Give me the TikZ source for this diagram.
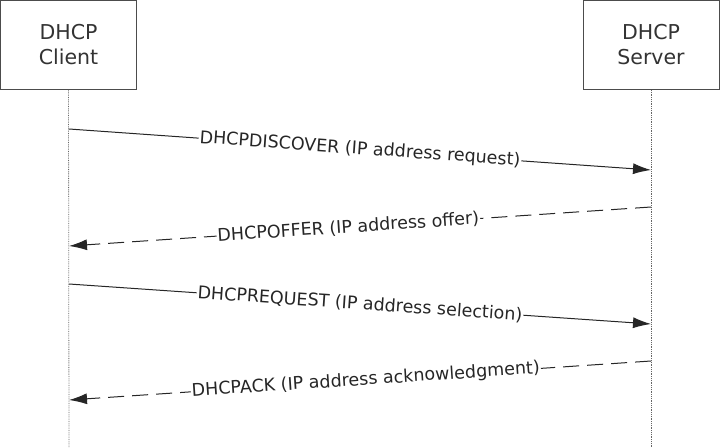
\documentclass[tikz,border=0pt]{standalone}
\usepackage{fontspec}
\setmainfont{DejaVu Sans}
\usetikzlibrary{arrows.meta}
\begin{document}
\begin{tikzpicture}[x=1pt,y=-1pt,
  box/.style={draw=black!70,line width=0.8pt,minimum width=136pt,minimum height=89pt,align=center,font=\fontsize{20.5}{25}\selectfont,text=black!80},
  life/.style={densely dotted,black!60,line width=0.8pt},
  msg/.style={line width=1pt,-{Latex[length=18pt,width=11pt]},black!85},
  lbl/.style={fill=white,inner sep=1pt,font=\fontsize{17.5}{19}\selectfont,sloped,text=black!85}]
\useasboundingbox (0,0) rectangle (720,447);
\node[box] (c) at (68.5,45) {DHCP\\Client};
\node[box] (s) at (651,45) {DHCP\\Server};
\coordinate (cb) at (69,447); \coordinate (sb) at (651,447);
\draw[life] (c.south) -- (cb);
\draw[life] (s.south) -- (sb);
\coordinate (a1) at (69,129); \coordinate (b1) at (651,170);
\coordinate (a2) at (651,207); \coordinate (b2) at (69,246);
\coordinate (a3) at (69,284); \coordinate (b3) at (651,324);
\coordinate (a4) at (651,361); \coordinate (b4) at (69,400);
\draw[msg] (a1) -- node[lbl,pos=0.5]{DHCPDISCOVER (IP address request)} (b1);
\draw[msg,dashed,dash pattern=on 16pt off 8pt] (a2) -- node[lbl,pos=0.52]{DHCPOFFER (IP address offer)} (b2);
\draw[msg] (a3) -- node[lbl,pos=0.5]{DHCPREQUEST (IP address selection)} (b3);
\draw[msg,dashed,dash pattern=on 16pt off 8pt] (a4) -- node[lbl,pos=0.49]{DHCPACK (IP address acknowledgment)} (b4);
\end{tikzpicture}
\end{document}
